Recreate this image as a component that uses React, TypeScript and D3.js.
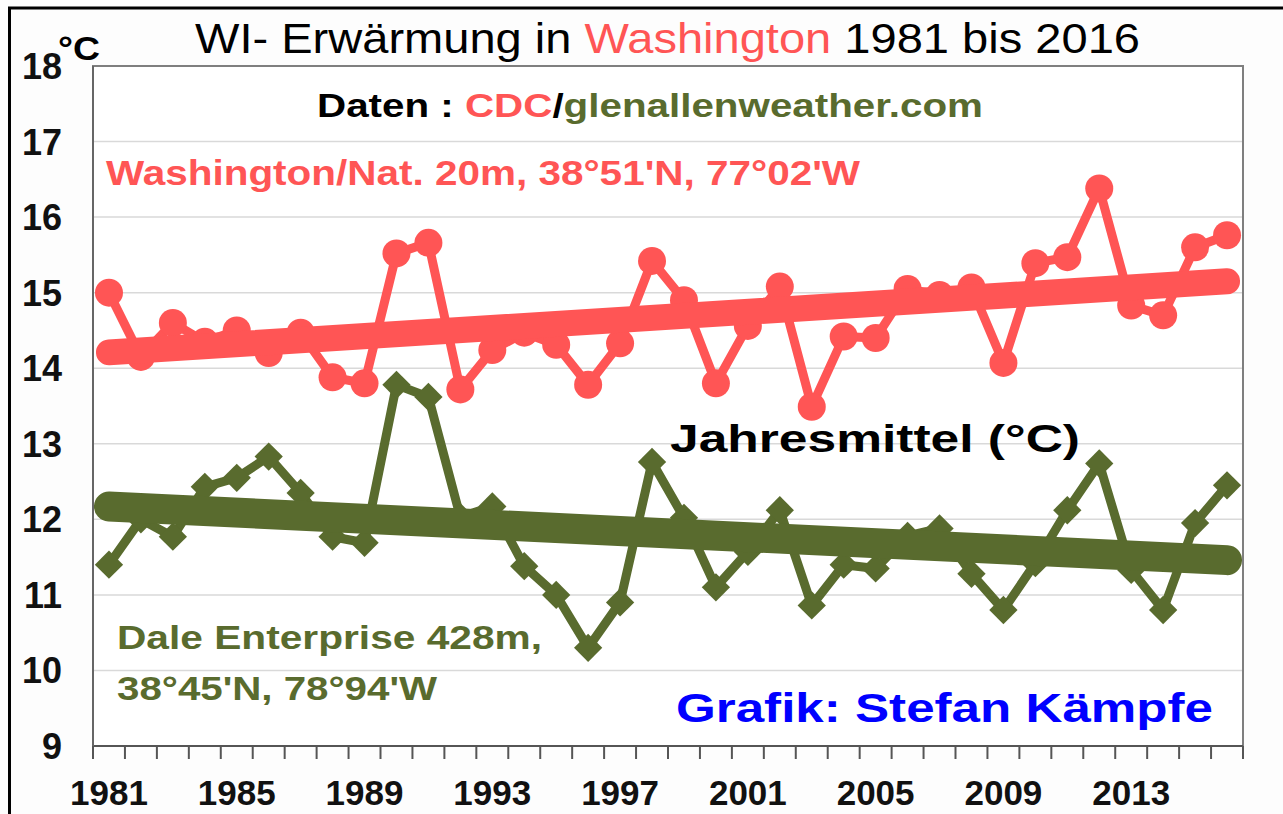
import React from "react";
import * as d3 from "d3";

const years: number[] = d3.range(1981, 2017);

const washington: number[] = [
  15.0, 14.15, 14.6, 14.35, 14.5, 14.2, 14.47, 13.88, 13.8, 15.52,
  15.66, 13.72, 14.24, 14.47, 14.31, 13.78, 14.33, 15.42, 14.9, 13.8,
  14.56, 15.08, 13.49, 14.42, 14.4, 15.05, 14.97, 15.07, 14.07, 15.39,
  15.47, 16.38, 14.83, 14.7, 15.6, 15.76,
];

const dale: number[] = [
  11.4, 12.0, 11.77, 12.43, 12.55, 12.83, 12.35, 11.77, 11.69, 13.78,
  13.62, 12.03, 12.17, 11.38, 11.0, 10.3, 10.9, 12.76, 12.02, 11.1,
  11.57, 12.12, 10.86, 11.4, 11.35, 11.78, 11.88, 11.28, 10.8, 11.42,
  12.12, 12.74, 11.33, 10.8, 11.95, 12.45,
];

const washingtonTrend: number[] = [14.21, 15.15];
const daleTrend: number[] = [12.17, 11.46];

const yTicks: number[] = [9, 10, 11, 12, 13, 14, 15, 16, 17, 18];
const xTickLabels: string[] = ["1981", "1985", "1989", "1993", "1997", "2001", "2005", "2009", "2013"];

const RED = "#ff5555";
const GREEN = "#596b2e";
const BLUE = "#0000ff";
const FONT = "'Liberation Sans', Arial, sans-serif";

export default function App() {
  const W = 1283;
  const H = 814;
  const left = 93;
  const right = 1243;
  const top = 66;
  const bottom = 746;

  const x = d3.scaleBand<number>().domain(years).range([left, right]).padding(0);
  const y = d3.scaleLinear().domain([9, 18]).range([bottom, top]);
  const cx = (yr: number) => (x(yr) as number) + x.bandwidth() / 2;

  const line = d3
    .line<number>()
    .x((_, i) => cx(years[i]))
    .y((d) => y(d));

  const diamond = d3.symbol().type(d3.symbolSquare).size(400)() as string;

  const boundaries = years.map((yr) => x(yr) as number).concat([right]);

  const trendPath = (t: number[]) =>
    `M${cx(years[0])},${y(t[0])}L${cx(years[years.length - 1])},${y(t[1])}`;

  return (
    <svg
      width={W}
      height={H}
      style={{ position: "absolute", left: 0, top: 0, background: "#fff" }}
      fontFamily={FONT}
    >
      <rect x={0} y={0} width={W} height={H} fill="#fdfdfd" />
      {/* outer frame */}
      <line x1={9.5} x2={9.5} y1={7} y2={H} stroke="#000" strokeWidth={3} />
      <line x1={8} x2={W} y1={8} y2={8} stroke="#000" strokeWidth={3} />

      {/* plot area */}
      <rect x={left} y={top} width={right - left} height={bottom - top} fill="#fff" />
      {yTicks
        .filter((t) => t > 9 && t < 18)
        .map((t) => (
          <line key={t} x1={left} x2={right} y1={y(t)} y2={y(t)} stroke="#d9d9d9" strokeWidth={1.5} />
        ))}
      <rect x={left} y={top} width={right - left} height={bottom - top} fill="none" stroke="#7f7f7f" strokeWidth={2} />
      <line x1={left} x2={right} y1={bottom} y2={bottom} stroke="#555" strokeWidth={2} />
      <line x1={left} x2={left} y1={top} y2={bottom + 13} stroke="#666" strokeWidth={2} />
      {boundaries.map((bx, i) => (
        <line key={i} x1={bx} x2={bx} y1={bottom} y2={bottom + 13} stroke="#555" strokeWidth={2} />
      ))}

      {/* y tick labels */}
      {yTicks.map((t) => (
        <text key={t} x={62} y={y(t)} dy="0.36em" textAnchor="end" fontSize={36} fontWeight="bold" fill="#111">
          {t}
        </text>
      ))}
      {/* x tick labels */}
      {xTickLabels.map((lab) => (
        <text key={lab} x={cx(+lab)} y={805} textAnchor="middle" fontSize={35} fontWeight="bold" fill="#111">
          {lab}
        </text>
      ))}

      {/* Dale series */}
      <path d={line(dale) as string} fill="none" stroke={GREEN} strokeWidth={9} strokeLinejoin="round" />
      {dale.map((v, i) => (
        <path key={i} d={diamond} transform={`translate(${cx(years[i])},${y(v)}) rotate(45)`} fill={GREEN} />
      ))}
      <path d={trendPath(daleTrend)} stroke={GREEN} strokeWidth={30} strokeLinecap="round" fill="none" />

      {/* Washington series */}
      <path d={line(washington) as string} fill="none" stroke={RED} strokeWidth={9} strokeLinejoin="round" />
      {washington.map((v, i) => (
        <circle key={i} cx={cx(years[i])} cy={y(v)} r={14} fill={RED} />
      ))}
      <path d={trendPath(washingtonTrend)} stroke={RED} strokeWidth={26} strokeLinecap="round" fill="none" />

      {/* texts */}
      <text x={195} y={53} fontSize={42} fill="#000" textLength={945} lengthAdjust="spacingAndGlyphs">
        WI- Erwärmung in <tspan fill={RED}>Washington</tspan> 1981 bis 2016
      </text>
      <text x={58} y={60} fontSize={34} fontWeight="bold" fill="#000" textLength={42} lengthAdjust="spacingAndGlyphs">
        °C
      </text>
      <text x={317} y={117} fontSize={33} fontWeight="bold" fill="#000" textLength={666} lengthAdjust="spacingAndGlyphs">
        Daten : <tspan fill={RED}>CDC</tspan>/<tspan fill={GREEN}>glenallenweather.com</tspan>
      </text>
      <text x={106} y={185} fontSize={35} fontWeight="bold" fill={RED} textLength={754} lengthAdjust="spacingAndGlyphs">
        Washington/Nat. 20m, 38°51'N, 77°02'W
      </text>
      <text x={670} y={452} fontSize={39} fontWeight="bold" fill="#000" textLength={410} lengthAdjust="spacingAndGlyphs">
        Jahresmittel (°C)
      </text>
      <text x={117} y={649} fontSize={33} fontWeight="bold" fill={GREEN} textLength={425} lengthAdjust="spacingAndGlyphs">
        Dale Enterprise 428m,
      </text>
      <text x={117} y={700} fontSize={33} fontWeight="bold" fill={GREEN} textLength={320} lengthAdjust="spacingAndGlyphs">
        38°45'N, 78°94'W
      </text>
      <text x={676} y={722} fontSize={40} fontWeight="bold" fill={BLUE} textLength={537} lengthAdjust="spacingAndGlyphs">
        Grafik: Stefan Kämpfe
      </text>
    </svg>
  );
}
